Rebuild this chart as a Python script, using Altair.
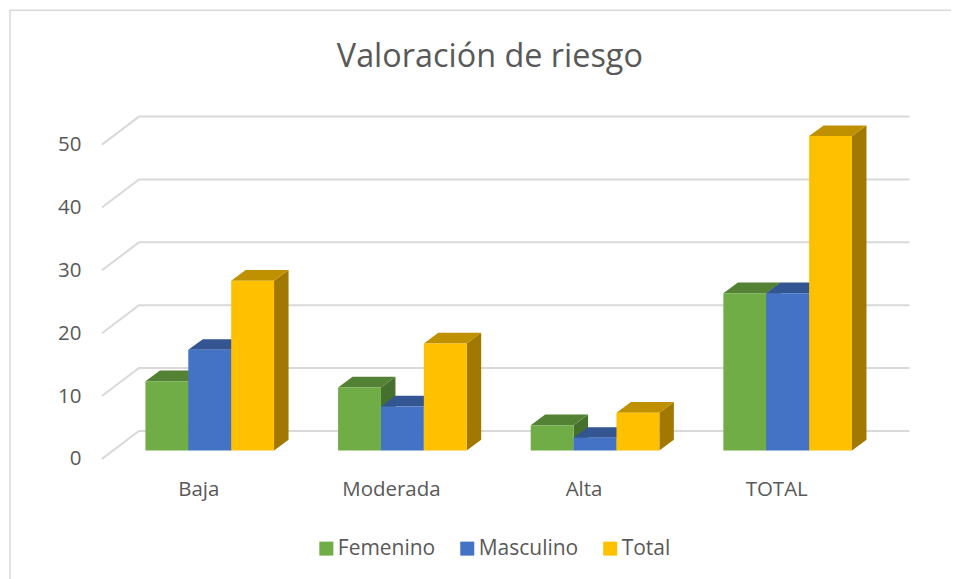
import altair as alt
import pandas as pd

categories = ["Baja", "Moderada", "Alta", "TOTAL"]
series = ["Femenino", "Masculino", "Total"]
femenino = [11, 10, 4, 25]
masculino = [16, 7, 2, 25]
total = [27, 17, 6, 50]
y_ticks = [0, 10, 20, 30, 40, 50]

front_colors = ["#70AD47", "#4472C4", "#FFC000"]
top_colors = ["#548235", "#335693", "#BF9000"]
side_colors = ["#46702D", "#2B487C", "#A17900"]
GRID = "#D9D9D9"
TEXT = "#595959"

# Geometry in scale units: x unit = one category, y unit = one value unit
PX_X = 192.75
PX_Y = 6.29
WALL_DX = 37 / PX_X
WALL_DY = 28 / PX_Y
BAR_DX = 14.5 / PX_X
BAR_DY = 10.7 / PX_Y
BAR_BASE = 8.5 / PX_Y
BAR_START = 43.5 / PX_X
BAR_W = 42.9 / PX_X

VIEW_W, VIEW_H = 942, 572
VIEW_X0, VIEW_Y0 = 9.5, 9
x_scale = alt.Scale(domain=[0, 4 + WALL_DX], range=[102 - VIEW_X0, 910 - VIEW_X0], nice=False, zero=False)
y_scale = alt.Scale(domain=[0, 50 + WALL_DY], range=[458.5 - VIEW_Y0, 116 - VIEW_Y0], nice=False, zero=False)

front, side, top, grid = [], [], [], []
for s, (name, vals) in enumerate(zip(series, [femenino, masculino, total])):
    for c, v in enumerate(vals):
        x0 = c + BAR_START + s * BAR_W
        x1 = x0 + BAR_W
        y0 = BAR_BASE
        y1 = BAR_BASE + v
        face = f"f{s}{c}"
        front.append(dict(series=name, s=s, x=x0, xe=x1, y=y0, ye=y1))
        side += [
            dict(s=s, face=face, x=x1, y=y0, ye=y1),
            dict(s=s, face=face, x=x1 + BAR_DX, y=y0 + BAR_DY, ye=y1 + BAR_DY),
        ]
        top += [
            dict(s=s, face=face, x=x0, y=y1, ye=y1),
            dict(s=s, face=face, x=x0 + BAR_DX, y=y1, ye=y1 + BAR_DY),
            dict(s=s, face=face, x=x1, y=y1, ye=y1 + BAR_DY),
            dict(s=s, face=face, x=x1 + BAR_DX, y=y1 + BAR_DY, ye=y1 + BAR_DY),
        ]
for t in y_ticks:
    grid += [
        dict(t=t, i=0, x=0, y=t),
        dict(t=t, i=1, x=WALL_DX, y=t + WALL_DY),
        dict(t=t, i=2, x=4 + WALL_DX, y=t + WALL_DY),
    ]

front_df, side_df, top_df, grid_df = map(pd.DataFrame, (front, side, top, grid))

X = alt.X("x:Q", scale=x_scale, title=None,
          axis=alt.Axis(values=[0.5, 1.5, 2.5, 3.5], offset=-(VIEW_H - (458.5 - VIEW_Y0)),
                        domain=False, ticks=False, grid=False, labelPadding=21,
                        labelFont="Open Sans", labelFontSize=20.5, labelColor=TEXT,
                        labelExpr="['Baja','Moderada','Alta','TOTAL'][floor(datum.value)]"))
Y = alt.Y("y:Q", scale=y_scale, title=None,
          axis=alt.Axis(values=y_ticks, offset=-(102 - VIEW_X0), domain=False, ticks=False,
                        grid=False, labelPadding=21, labelFont="Open Sans", labelFontSize=20.5,
                        labelColor=TEXT))

frame_top = alt.Chart(pd.DataFrame({"a": [0]})).mark_rule(color=GRID, strokeWidth=1.5).encode(
    x=alt.value(0), x2=alt.value(VIEW_W), y=alt.value(0.5))
frame_left = alt.Chart(pd.DataFrame({"a": [0]})).mark_rule(color=GRID, strokeWidth=1.5).encode(
    x=alt.value(0.5), y=alt.value(0), y2=alt.value(VIEW_H))

grid_layer = alt.Chart(grid_df).mark_line(color=GRID, strokeWidth=2).encode(
    x=X, y=Y, detail="t:N", order="i:Q")

layers = [frame_top, frame_left, grid_layer]
for s, name in enumerate(series):
    side_layer = alt.Chart(side_df[side_df.s == s]).mark_area(color=side_colors[s]).encode(
        x=X, y=Y, y2="ye:Q", detail="face:N")
    top_layer = alt.Chart(top_df[top_df.s == s]).mark_area(color=top_colors[s]).encode(
        x=X, y=Y, y2="ye:Q", detail="face:N")
    front_layer = alt.Chart(front_df[front_df.s == s]).mark_rect().encode(
        x=X, x2="xe:Q", y=Y, y2="ye:Q",
        color=alt.Color("series:N",
                        scale=alt.Scale(domain=series, range=front_colors),
                        legend=alt.Legend(orient="none", legendX=316 - VIEW_X0, legendY=538 - 9.5,
                                          direction="horizontal", title=None, symbolType="square",
                                          symbolSize=196, symbolStrokeWidth=0, columnPadding=21,
                                          labelFont="Open Sans", labelFontSize=21, labelColor=TEXT,
                                          labelOffset=1)))
    layers += [side_layer, top_layer, front_layer]

chart = alt.layer(*layers).resolve_scale(x="shared", y="shared").properties(
    width=VIEW_W, height=VIEW_H,
    padding={"left": 0.5, "top": 0.5, "right": 0, "bottom": 0},
    title=alt.TitleParams("Valoración de riesgo", font="Open Sans", fontSize=32.4, fontWeight="normal",
                          color=TEXT, anchor="start", orient="top", frame="group",
                          dx=337 - VIEW_X0, offset=-91, baseline="alphabetic"),
).configure_view(stroke=None)

chart.save("out.html", embed_options={"renderer": "svg", "actions": False})
